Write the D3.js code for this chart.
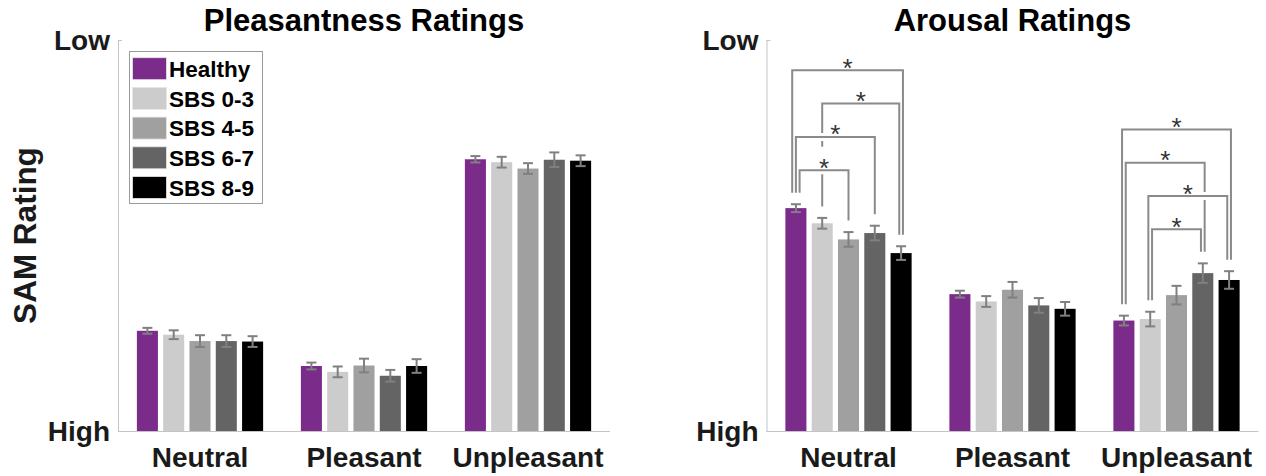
<!DOCTYPE html>
<html>
<head>
<meta charset="utf-8">
<script src="https://cdn.jsdelivr.net/npm/d3@7"></script>
<style>
  html, body { margin: 0; padding: 0; background: #ffffff; }
  svg { display: block; }
  text { font-family: "Liberation Sans", Arial, sans-serif; }
</style>
</head>
<body>
<svg id="chart" width="1266" height="476"></svg>
<script>
// ---------------- DATA ----------------
const categories = ["Neutral", "Pleasant", "Unpleasant"];
const groups = ["Healthy", "SBS 0-3", "SBS 4-5", "SBS 6-7", "SBS 8-9"];
const yTickLabels = ["High", "Low"];
const yTickValues = [1, 9];

// mean ratings per category (rows) and group (columns)
const pleasantMeans = [
  [3.05, 2.97, 2.84, 2.84, 2.83],
  [2.33, 2.21, 2.34, 2.13, 2.33],
  [6.56, 6.50, 6.37, 6.55, 6.53]
];
const pleasantErr = [
  [0.06, 0.09, 0.12, 0.12, 0.11],
  [0.07, 0.11, 0.14, 0.12, 0.14],
  [0.065, 0.11, 0.11, 0.15, 0.11]
];
const arousalMeans = [
  [5.56, 5.25, 4.92, 5.05, 4.64],
  [3.80, 3.65, 3.89, 3.57, 3.50],
  [3.26, 3.29, 3.78, 4.23, 4.09]
];
const arousalErr = [
  [0.08, 0.11, 0.15, 0.15, 0.14],
  [0.07, 0.11, 0.16, 0.15, 0.14],
  [0.10, 0.15, 0.19, 0.20, 0.18]
];
// significant pairs (category, group a, group b), listed outermost first
const arousalSig = [
  ["Neutral", 0, 4], ["Neutral", 1, 4], ["Neutral", 0, 3], ["Neutral", 0, 2],
  ["Unpleasant", 0, 4], ["Unpleasant", 0, 3], ["Unpleasant", 1, 4], ["Unpleasant", 1, 3]
];

// ---------------- STYLE ----------------
const colors = ["#7b2c8b", "#cccccc", "#a0a0a0", "#646464", "#000000"];
const axisColor = "#c4c4c4";
const errColor = "#808080";
const sigColor = "#8a8a8a";

const svg = d3.select("#chart");
const H0 = 40, H1 = 431, PW = 492;

const y = d3.scaleLinear().domain([1, 9]).range([H1, H0]);

function panel(x0, title, means, errs, sig, showLegend, showYLabel) {
  const g = svg.append("g");
  const x = d3.scaleBand().domain(categories).range([x0, x0 + PW]).paddingInner(0).paddingOuter(0);
  const xs = d3.scaleBand().domain(d3.range(groups.length))
    .range([-65.75, 65.75]).paddingInner(0.2).paddingOuter(0.1);
  const cx = (ci, gi) => x(categories[ci]) + x.bandwidth() / 2 + xs(gi) + xs.bandwidth() / 2;

  // bars
  categories.forEach((c, ci) => {
    groups.forEach((gr, gi) => {
      const v = means[ci][gi];
      g.append("rect")
        .attr("x", cx(ci, gi) - xs.bandwidth() / 2)
        .attr("width", xs.bandwidth())
        .attr("y", y(v))
        .attr("height", y(1) - y(v))
        .attr("fill", colors[gi]);
    });
  });
  // error bars
  categories.forEach((c, ci) => {
    groups.forEach((gr, gi) => {
      const v = means[ci][gi], e = errs[ci][gi], xc = cx(ci, gi);
      const eg = g.append("g").attr("stroke", errColor).attr("stroke-width", 2);
      eg.append("line").attr("x1", xc).attr("x2", xc).attr("y1", y(v - e)).attr("y2", y(v + e));
      eg.append("line").attr("x1", xc - 5).attr("x2", xc + 5).attr("y1", y(v - e)).attr("y2", y(v - e));
      eg.append("line").attr("x1", xc - 5).attr("x2", xc + 5).attr("y1", y(v + e)).attr("y2", y(v + e));
    });
  });

  // axes
  g.append("line").attr("x1", x0 + 0.5).attr("x2", x0 + 0.5).attr("y1", H0).attr("y2", H1)
    .attr("stroke", axisColor).attr("stroke-width", 1);
  g.append("line").attr("x1", x0).attr("x2", x0 + PW).attr("y1", H1 + 0.5).attr("y2", H1 + 0.5)
    .attr("stroke", axisColor).attr("stroke-width", 1);
  yTickValues.forEach((tv, i) => {
    g.append("line").attr("x1", x0).attr("x2", x0 + 4).attr("y1", y(tv) + 0.5).attr("y2", y(tv) + 0.5)
      .attr("stroke", axisColor);
    g.append("text").attr("x", x0 - 8).attr("y", y(tv)).attr("dy", "0.36em")
      .attr("text-anchor", "end").attr("font-size", 28).attr("font-weight", "bold")
      .attr("fill", "#1a1a1a").text(yTickLabels[i]);
  });
  categories.forEach(c => {
    g.append("text").attr("x", x(c) + x.bandwidth() / 2).attr("y", 467)
      .attr("text-anchor", "middle").attr("font-size", 28).attr("font-weight", "bold")
      .attr("fill", "#1a1a1a").text(c);
  });
  g.append("text").attr("x", x0 + PW / 2).attr("y", 31)
    .attr("text-anchor", "middle").attr("font-size", 31).attr("font-weight", "bold")
    .attr("fill", "#000").text(title);

  if (showYLabel) {
    g.append("text").attr("transform", `translate(36,${(H0 + H1) / 2}) rotate(-90)`)
      .attr("text-anchor", "middle").attr("font-size", 31.5).attr("font-weight", "bold")
      .attr("fill", "#1a1a1a").text("SAM Rating");
  }

  if (showLegend) {
    const lg = g.append("g");
    lg.append("rect").attr("x", 129.5).attr("y", 51.5).attr("width", 133).attr("height", 152)
      .attr("fill", "#fff").attr("stroke", "#9a9a9a").attr("stroke-width", 1);
    groups.forEach((gr, gi) => {
      const ty = 57.7 + gi * 29.7;
      lg.append("rect").attr("x", 132.5).attr("y", ty).attr("width", 34).attr("height", 22)
        .attr("fill", colors[gi]).attr("stroke", "#e6e6e6").attr("stroke-width", 0.8);
      lg.append("text").attr("x", 169).attr("y", ty + 11).attr("dy", "0.36em")
        .attr("font-size", 22.5).attr("font-weight", "bold").attr("fill", "#000").text(gr);
    });
  }

  // significance brackets
  if (sig.length) {
    const errTop = (ci, gi) => y(means[ci][gi] + errs[ci][gi]);
    const items = sig.map((s, idx) => ({ ci: categories.indexOf(s[0]), a: s[1], b: s[2], idx }));
    categories.forEach((c, ci) => {
      const its = items.filter(d => d.ci === ci);
      const n = its.length;
      if (!n) return;
      let maxTop = Infinity;
      groups.forEach((gr, gi) => { maxTop = Math.min(maxTop, errTop(ci, gi)); });
      its.forEach((d, k) => { d.level = n - 1 - k; d.yl = maxTop - 34 - d.level * 33.3; });
    });
    // leg offsets per bar
    const legs = {};
    items.forEach(d => {
      [[d.a, "L"], [d.b, "R"]].forEach(([gi, side]) => {
        const key = d.ci + "_" + gi;
        (legs[key] = legs[key] || []).push({ d, side });
      });
    });
    Object.values(legs).forEach(arr => {
      const Ls = arr.filter(o => o.side === "L").sort((p, q) => q.d.level - p.d.level);
      const Rs = arr.filter(o => o.side === "R").sort((p, q) => p.d.level - q.d.level);
      const all = Ls.concat(Rs);
      all.forEach((o, i) => { o.off = (i - (all.length - 1) / 2) * 3.7; o.d[o.side === "L" ? "offL" : "offR"] = o.off; });
    });
    items.forEach(d => {
      const xa = cx(d.ci, d.a) + d.offL, xb = cx(d.ci, d.b) + d.offR;
      const ya = errTop(d.ci, d.a) - 11.5, yb = errTop(d.ci, d.b) - 11.5;
      g.append("line").attr("x1", xa).attr("x2", xb).attr("y1", d.yl).attr("y2", d.yl)
        .attr("stroke", "#fff").attr("stroke-width", 8).attr("stroke-linecap", "butt");
      g.append("path").attr("d", `M${xa},${ya}V${d.yl}H${xb}V${yb}`)
        .attr("fill", "none").attr("stroke", sigColor).attr("stroke-width", 2);
      const mx = (xa + xb) / 2, my = d.yl - 8.5;
      g.append("rect").attr("x", mx - 7).attr("y", my - 15).attr("width", 14).attr("height", 19)
        .attr("fill", "#fff");
      g.append("text").attr("x", mx).attr("y", d.yl + 6.5).attr("text-anchor", "middle")
        .attr("font-size", 26).attr("fill", "#333").text("*");
    });
  }
}

panel(118, "Pleasantness Ratings", pleasantMeans, pleasantErr, [], true, true);
panel(766.5, "Arousal Ratings", arousalMeans, arousalErr, arousalSig, false, false);
</script>
</body>
</html>
